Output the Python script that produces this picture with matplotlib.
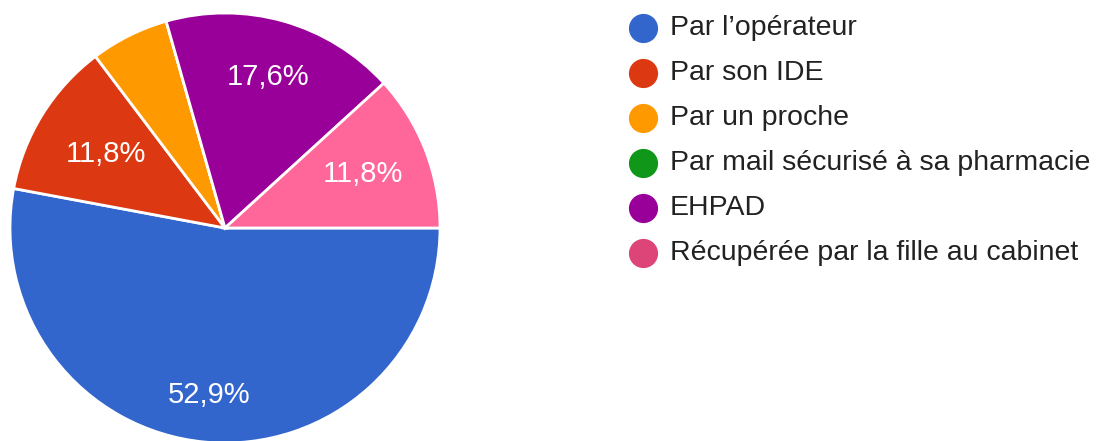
import numpy as np
import matplotlib.pyplot as plt
from matplotlib.lines import Line2D

plt.rcParams['font.family'] = ['Liberation Sans', 'DejaVu Sans']

# Responses (counts out of 17)
labels = ["Par l’opérateur", "Par son IDE", "Par un proche",
          "Par mail sécurisé à sa pharmacie", "EHPAD",
          "Récupérée par la fille au cabinet"]
counts = [9, 2, 1, 0, 3, 2]
slice_colors = ["#3366CC", "#DC3912", "#FF9900", "#109618", "#990099", "#FF6699"]
legend_colors = ["#3366CC", "#DC3912", "#FF9900", "#109618", "#990099", "#DD4477"]
# radial position of each percentage label (fraction of radius)
label_dist = [0.78, 0.65, 0.7, 0.7, 0.73, 0.69]

W, H = 1099, 441
fig = plt.figure(figsize=(W / 100, H / 100), dpi=100)

# pie centred at (225, 228) px with radius 215 px
cx, cy, r = 225, 228, 215
ax = fig.add_axes([(cx - r) / W, (H - cy - r) / H, 2 * r / W, 2 * r / H])


def fmt(p):
    if p < 10:
        return ""
    return f"{p:.1f}%".replace(".", ",")


wedges, texts, autotexts = ax.pie(
    counts, colors=slice_colors, startangle=0, counterclock=False,
    autopct=fmt, pctdistance=0.72,
    wedgeprops=dict(edgecolor="white", linewidth=2),
    textprops=dict(color="white", fontsize=21))

# move the labels along the bisector of each wedge
for w, t, d in zip(wedges, autotexts, label_dist):
    mid = np.deg2rad((w.theta1 + w.theta2) / 2)
    t.set_position((d * np.cos(mid), d * np.sin(mid)))

ax.set_xlim(-1, 1)
ax.set_ylim(-1, 1)
ax.set_aspect("equal")
ax.axis("off")

# legend drawn row by row
for i, (lab, col) in enumerate(zip(labels, legend_colors)):
    y = 1 - (28 + 45 * i) / H
    fig.add_artist(Line2D([643 / W], [y], marker="o", markersize=20,
                          color=col, linestyle="none",
                          transform=fig.transFigure))
    fig.text(670 / W, y, lab, fontsize=20.5, color="#222222",
             va="center", ha="left")

plt.savefig("out.png", dpi=100)
